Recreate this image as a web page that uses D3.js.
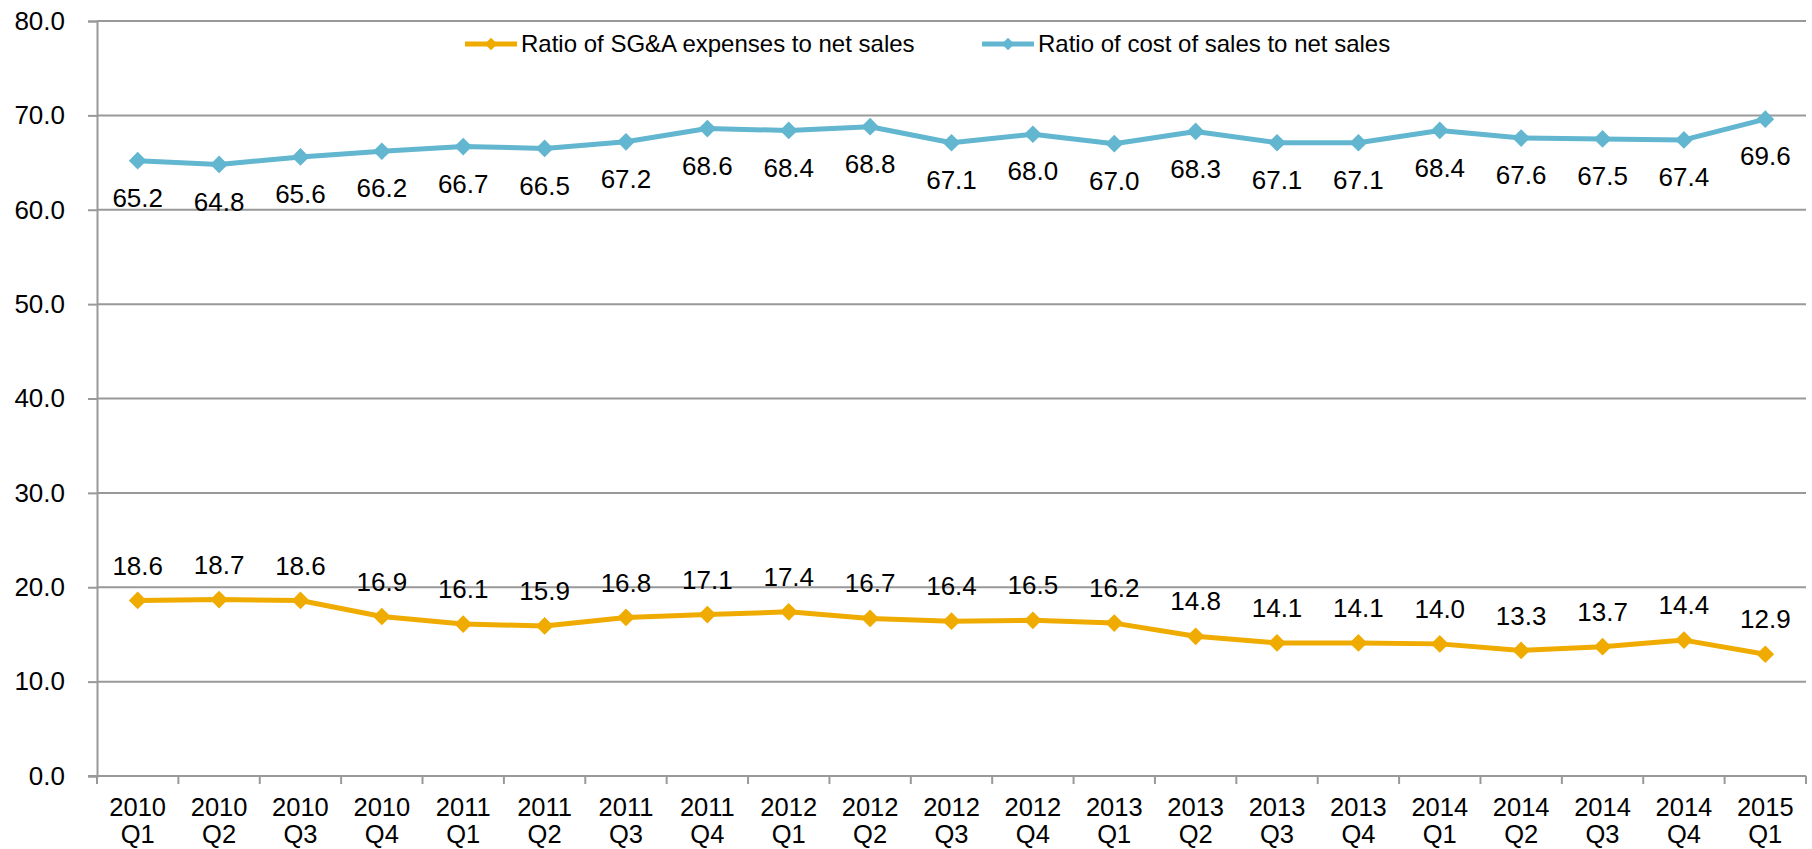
<!DOCTYPE html>
<html>
<head>
<meta charset="utf-8">
<script src="https://cdn.jsdelivr.net/npm/d3@7"></script>
<style>
  html, body { margin: 0; padding: 0; background: #ffffff; }
  svg { display: block; font-family: "Liberation Sans", Arial, sans-serif; }
</style>
</head>
<body>
<svg id="chart" width="1812" height="849"></svg>
<script>
// Quarterly periods, each shown as a two-line label (year / quarter)
const years    = ["2010","2010","2010","2010","2011","2011","2011","2011","2012","2012","2012","2012","2013","2013","2013","2013","2014","2014","2014","2014","2015"];
const quarters = ["Q1","Q2","Q3","Q4","Q1","Q2","Q3","Q4","Q1","Q2","Q3","Q4","Q1","Q2","Q3","Q4","Q1","Q2","Q3","Q4","Q1"];

// Ratios, in percent of net sales
const sgaRatio  = [18.6, 18.7, 18.6, 16.9, 16.1, 15.9, 16.8, 17.1, 17.4, 16.7, 16.4, 16.5, 16.2, 14.8, 14.1, 14.1, 14.0, 13.3, 13.7, 14.4, 12.9];
const costRatio = [65.2, 64.8, 65.6, 66.2, 66.7, 66.5, 67.2, 68.6, 68.4, 68.8, 67.1, 68.0, 67.0, 68.3, 67.1, 67.1, 68.4, 67.6, 67.5, 67.4, 69.6];

const yTicks = [0, 10, 20, 30, 40, 50, 60, 70, 80];

const seriesNames = ["Ratio of SG&A expenses to net sales", "Ratio of cost of sales to net sales"];

const periods = years.map((y, i) => y + " " + quarters[i]);

const svg = d3.select("#chart");
const plotLeft = 97, plotRight = 1806, plotTop = 21, plotBottom = 776;

const x = d3.scaleBand().domain(periods).range([plotLeft, plotRight]).paddingInner(0).paddingOuter(0);
const y = d3.scaleLinear().domain([0, 80]).range([plotBottom, plotTop]);
const cx = p => x(p) + x.bandwidth() / 2;

const gridColor = "#999999";
const fontSize = 26;

// horizontal gridlines
svg.append("g")
  .selectAll("line")
  .data(yTicks.filter(t => t > 0))
  .join("line")
  .attr("x1", plotLeft).attr("x2", plotRight)
  .attr("y1", d => y(d)).attr("y2", d => y(d))
  .attr("stroke", gridColor).attr("stroke-width", 2);

// y axis
const yAxis = svg.append("g")
  .attr("transform", `translate(${plotLeft},0)`)
  .call(d3.axisLeft(y).tickValues(yTicks).tickFormat(d3.format(".1f")).tickSize(9).tickPadding(23));
yAxis.select(".domain").attr("stroke", gridColor).attr("stroke-width", 2);
yAxis.selectAll(".tick line").attr("stroke", gridColor).attr("stroke-width", 2);
yAxis.selectAll(".tick text")
  .attr("fill", "#000").attr("font-size", fontSize)
  .attr("font-family", "Liberation Sans, Arial, sans-serif");

// x axis with ticks at category boundaries
const xAxisG = svg.append("g").attr("transform", `translate(0,${plotBottom})`);
xAxisG.append("line")
  .attr("x1", plotLeft - 9).attr("x2", plotRight)
  .attr("stroke", gridColor).attr("stroke-width", 2);
const boundaries = periods.map(p => x(p)).concat([plotRight]);
xAxisG.selectAll("line.tk")
  .data(boundaries)
  .join("line")
  .attr("class", "tk")
  .attr("x1", d => d).attr("x2", d => d)
  .attr("y1", 0).attr("y2", 8)
  .attr("stroke", gridColor).attr("stroke-width", 2);
const xl = xAxisG.selectAll("text.xl")
  .data(periods)
  .join("text")
  .attr("class", "xl")
  .attr("text-anchor", "middle")
  .attr("font-size", 25.5)
  .attr("fill", "#000")
  .attr("x", d => cx(d));
xl.append("tspan").attr("x", d => cx(d)).attr("y", 40).text((d, i) => years[i]);
xl.append("tspan").attr("x", d => cx(d)).attr("y", 67).text((d, i) => quarters[i]);

const series = [
  { name: seriesNames[0], values: sgaRatio,  color: "#F0AB00", labelDy: -35 },
  { name: seriesNames[1], values: costRatio, color: "#62B6CF", labelDy: 37 }
];

const line = d3.line().x(d => cx(d.p)).y(d => y(d.v));
const diamond = d3.symbol().type(d3.symbolDiamond2);

series.forEach(s => {
  const pts = s.values.map((v, i) => ({ p: periods[i], v }));
  svg.append("path")
    .datum(pts)
    .attr("d", line)
    .attr("fill", "none")
    .attr("stroke", s.color)
    .attr("stroke-width", 5)
    .attr("stroke-linejoin", "round");
  svg.append("g")
    .selectAll("path")
    .data(pts)
    .join("path")
    .attr("transform", d => `translate(${cx(d.p)},${y(d.v)})`)
    .attr("d", diamond.size(200)())
    .attr("fill", s.color);
  svg.append("g")
    .selectAll("text")
    .data(pts)
    .join("text")
    .attr("x", d => cx(d.p))
    .attr("y", d => y(d.v) + s.labelDy)
    .attr("dy", "0.35em")
    .attr("text-anchor", "middle")
    .attr("font-size", fontSize)
    .attr("fill", "#000")
    .text(d => d.v.toFixed(1));
});

// legend
const legendItems = [
  { s: series[0], x0: 465 },
  { s: series[1], x0: 982 }
];
const legendY = 44;
legendItems.forEach(({ s, x0 }) => {
  const g = svg.append("g");
  g.append("line")
    .attr("x1", x0).attr("x2", x0 + 52)
    .attr("y1", legendY).attr("y2", legendY)
    .attr("stroke", s.color).attr("stroke-width", 5);
  g.append("path")
    .attr("transform", `translate(${x0 + 26},${legendY})`)
    .attr("d", diamond.size(100)())
    .attr("fill", s.color);
  g.append("text")
    .attr("x", x0 + 56)
    .attr("y", legendY)
    .attr("dy", "0.35em")
    .attr("font-size", 24)
    .attr("fill", "#000")
    .text(s.name);
});
</script>
</body>
</html>
